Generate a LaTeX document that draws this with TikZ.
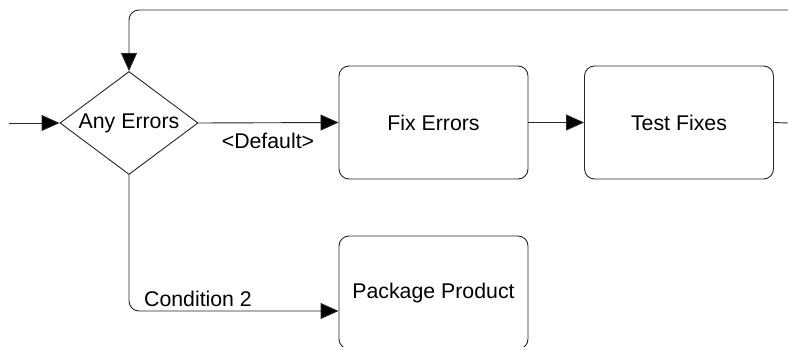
\documentclass[tikz,border=0pt]{standalone}
\usepackage{fontspec}
\setmainfont{Liberation Sans}
\usetikzlibrary{shapes.geometric,arrows.meta}
\begin{document}
\begin{tikzpicture}[x=1pt,y=-1pt,
  font=\fontsize{21.3}{25}\selectfont,
  line width=0.9pt,
  arr/.style={draw=black!85, -{Triangle[length=18pt,width=16pt,fill=black]}},
  plain/.style={draw=black!85},
  procbox/.style={draw=black!85, rounded corners=10pt, minimum width=189pt, minimum height=113pt, inner sep=0pt},
  decision/.style={draw=black!85, diamond, shape aspect=1.34, minimum width=138pt, minimum height=103pt, inner sep=0pt},
  lbl/.style={inner sep=0pt}]
\useasboundingbox (0,0) rectangle (788,347);
\clip (0,0) rectangle (788,347);
\node[decision] (d) at (129,123) {Any Errors};
\node[procbox] (fix) at (433.5,122.5) {Fix Errors};
\node[procbox] (test) at (679,122.5) {Test Fixes};
\node[procbox] (pkg) at (433.5,292.5) {Package Product};
\coordinate (in) at (9,123);
\coordinate (outr) at (788,123);
\coordinate (topr) at (788,10);
\draw[arr] (in) -- (d.west);
\draw[arr] (d.east) -- (fix.west);
\node[lbl] (ldef) at (268,141) {<Default>};
\draw[arr] (fix.east) -- (test.west);
\draw[plain] (test.east) -- (outr);
\draw[arr, rounded corners=10pt] (topr) -| (d.north);
\draw[arr, rounded corners=10pt] (d.south) |- ([yshift=-18.5pt]pkg.west);
\node[lbl] (lcond) at (198,299) {Condition 2};
\end{tikzpicture}
\end{document}
